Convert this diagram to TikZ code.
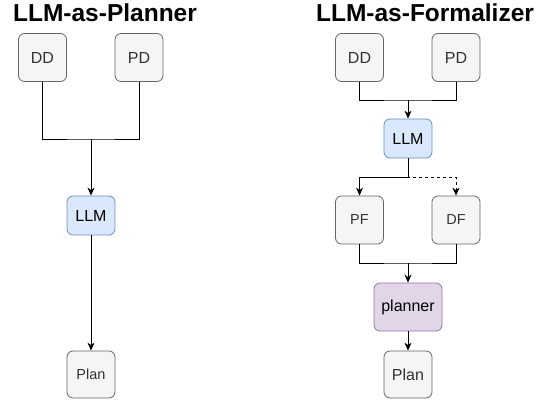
\documentclass[tikz,border=0pt]{standalone}
\usepackage{fontspec}
\setmainfont{Liberation Sans}
\usetikzlibrary{arrows.meta}
\definecolor{greyfill}{HTML}{F5F5F5}
\definecolor{greyline}{HTML}{666666}
\definecolor{greytext}{HTML}{333333}
\definecolor{bluefill}{HTML}{DAE8FC}
\definecolor{blueline}{HTML}{6C8EBF}
\definecolor{purplefill}{HTML}{E1D5E7}
\definecolor{purpleline}{HTML}{9673A6}
\tikzset{
  box/.style={draw=greyline, fill=greyfill, rounded corners=6pt, line width=0.8pt,
    text=greytext, inner sep=0pt, minimum width=48pt, minimum height=48pt,
    font=\fontsize{16}{19}\selectfont},
  smallbox/.style={box, font=\fontsize{14.5}{17}\selectfont},
  llmbox/.style={box, draw=blueline, fill=bluefill, text=black, minimum height=39pt},
  plannerbox/.style={box, draw=purpleline, fill=purplefill, text=black, minimum width=68pt},
  ln/.style={line width=0.9pt, black},
  arr/.style={ln, -{Stealth[length=8pt,width=7pt,inset=2.5pt]}},
  title/.style={font=\bfseries\fontsize{24.5}{28}\selectfont, anchor=base, inner sep=0pt}
}
\begin{document}
\begin{tikzpicture}[x=1pt,y=-1pt]
\useasboundingbox (0,0) rectangle (544,401);
% titles
\node[title] (t1) at (105,21.7) {LLM-as-Planner};
\node[title] (t2) at (425,21.7) {LLM-as-Formalizer};
% left
\node[box] (dd1) at (42.5,57.5) {DD};
\node[box] (pd1) at (139,57.5) {PD};
\node[llmbox] (llm1) at (91,215.5) {LLM};
\node[smallbox, minimum height=47pt] (plan1) at (91,374.5) {Plan};
\coordinate (j1) at (91,139);
\draw[ln] (dd1.south) |- (j1) -| (pd1.south);
\draw[arr] (j1) -- (llm1.north);
\draw[arr] (llm1.south) -- (plan1.north);
% right
\node[box] (dd2) at (359.5,57.5) {DD};
\node[box] (pd2) at (456,57.5) {PD};
\node[llmbox] (llm2) at (408,138.5) {LLM};
\node[smallbox] (pf) at (359.5,220) {PF};
\node[smallbox] (df) at (456,220) {DF};
\node[plannerbox] (pl) at (408,307) {planner};
\node[box, minimum height=47pt] (plan2) at (408,374.5) {Plan};
\coordinate (j2) at (408,100);
\coordinate (j3) at (408,177);
\coordinate (j4) at (408,263);
\draw[ln] (dd2.south) |- (j2) -| (pd2.south);
\draw[arr] (j2) -- (llm2.north);
\draw[arr] (llm2.south) -- (j3) -| (pf.north);
\draw[arr, dash pattern=on 3pt off 3pt] (llm2.south) -- (j3) -| (df.north);
\draw[ln] (pf.south) |- (j4) -| (df.south);
\draw[arr] (j4) -- (pl.north);
\draw[arr] (pl.south) -- (plan2.north);
\end{tikzpicture}
\end{document}
